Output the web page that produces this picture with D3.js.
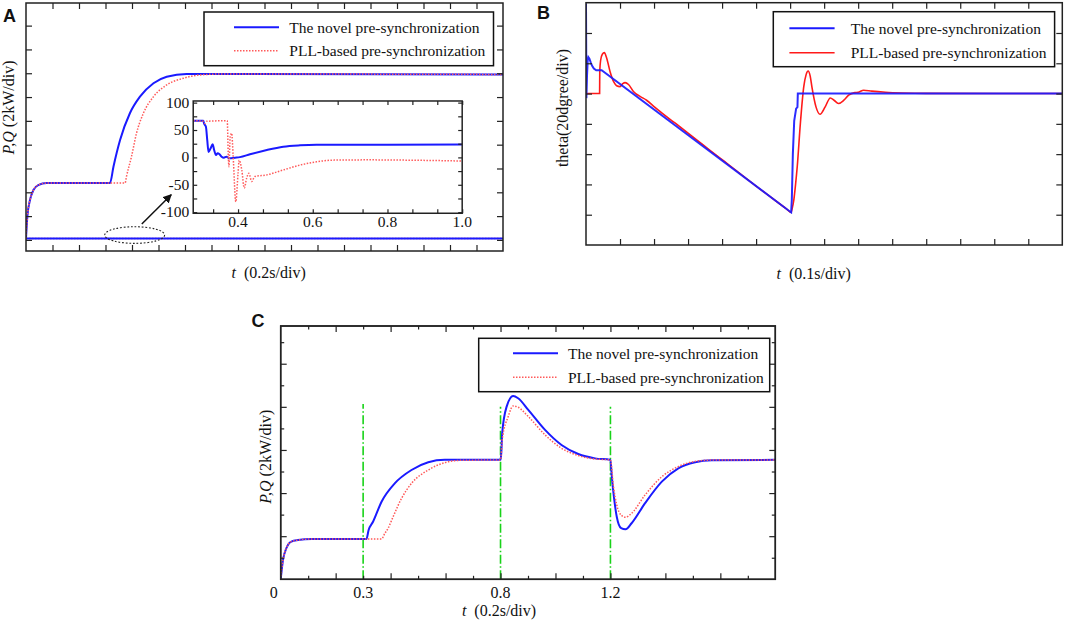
<!DOCTYPE html>
<html>
<head>
<meta charset="utf-8">
<script src="https://cdn.jsdelivr.net/npm/d3@7"></script>
<style>
  body { margin: 0; background: #fff; }
  text { font-family: "Liberation Serif", "Times New Roman", serif; fill: #111; }
  .tag { font-family: "Liberation Sans", Arial, sans-serif; font-weight: bold; font-size: 18px; }
  .tick line { stroke: #222; stroke-width: 1.2; }
</style>
</head>
<body>
<svg id="fig" width="1065" height="620"></svg>
<script>
// ---- panel A: P,Q (kW) vs t (s)
const aNovelP = [[0,0.13],[0.005,1.95],[0.015,3.35],[0.028,4.19],[0.046,4.61],[0.078,4.78],[0.317,4.78],[0.33,6.15],[0.355,8.39],[0.392,10.64],[0.43,12.03],[0.481,13.16],[0.531,13.71],[0.606,13.94],[1.8,13.9]];
const aPllP = [[0,0.13],[0.005,1.95],[0.015,3.35],[0.028,4.19],[0.046,4.61],[0.078,4.78],[0.374,4.78],[0.379,5.31],[0.398,6.99],[0.417,8.96],[0.443,10.64],[0.481,12.03],[0.531,13.02],[0.594,13.58],[0.657,13.86],[0.75,13.94],[1.8,13.9]];
const aNovelQ = [[0,0.13],[1.8,0.13]];
const aPllQ = [[0,0.13],[1.8,0.13]];
// inset of A (zoomed Q)
const insetNovel = [[0.28,67],[0.307,67],[0.309,62],[0.314,56],[0.3175,32],[0.321,10],[0.3266,16.6],[0.332,24],[0.336,13.5],[0.341,4.4],[0.3454,7.5],[0.3497,6.2],[0.356,1.3],[0.362,-0.5],[0.369,1.3],[0.3765,-1.6],[0.392,-0.5],[0.405,0.5],[0.432,5.7],[0.477,13.5],[0.521,19.5],[0.566,22],[0.61,23],[0.8,23.2],[1.0,23.4]];
const insetPll = [[0.28,67],[0.307,66],[0.311,62],[0.316,66],[0.371,67],[0.374,1],[0.3756,-17],[0.379,38],[0.383,44],[0.387,1],[0.394,-81],[0.4,-29],[0.403,-5],[0.41,-23],[0.4166,-56],[0.423,-38],[0.429,-29],[0.4365,-44],[0.445,-35],[0.476,-32],[0.521,-23],[0.566,-14],[0.61,-8],[0.655,-5],[0.75,-4.5],[0.85,-5],[1.0,-6.6]];
const insetXLabels = [0.4, 0.6, 0.8, 1.0];
const insetYLabels = [-100, -50, 0, 50, 100];
// inset box and zoom marks, in panel A data units [t, kW]
const insetBox = [[0.631, 11.67], [1.646, 2.24]];
const zoomEllipse = [0.41, 0.41, 0.113, 0.7];
const zoomArrow = [[0.437, 1.34], [0.548, 3.8]];

// ---- panel B: theta (degree) vs t
const bNovel = [[0,59.5],[0.0012,-3],[0.003,12],[0.005,22],[0.007,24],[0.01,23],[0.014,20.5],[0.018,18.3],[0.023,16.5],[0.03,15.4],[0.046,15.4],[0.603,-78.5],[0.605,-70],[0.608,-40],[0.612,-18],[0.6176,-10],[0.6215,-9],[0.6226,0],[1.4,0]];
const bPll = [[0,0],[0.04,0],[0.0405,15],[0.043,22],[0.048,26],[0.054,27],[0.06,24],[0.071,14.3],[0.082,7.5],[0.09,5.2],[0.1,4.6],[0.108,6.5],[0.115,7.2],[0.125,6],[0.14,1.2],[0.16,-2],[0.178,-4.4],[0.2,-8.6],[0.25,-17.5],[0.27,-20.8],[0.3,-26.2],[0.4,-43.6],[0.5,-61.1],[0.59,-76.3],[0.603,-78.5],[0.606,-76],[0.611,-70],[0.616,-60],[0.621,-48],[0.63,-20],[0.64,4.4],[0.647,12.5],[0.653,14.9],[0.659,11.5],[0.664,4.4],[0.676,-8.8],[0.688,-13.7],[0.703,-8.8],[0.718,-2.9],[0.729,-4.4],[0.742,-6.6],[0.758,-4.4],[0.772,-1.1],[0.79,0.6],[0.8,0.8],[0.816,2.2],[0.84,1.6],[0.88,0.9],[0.93,0.4],[1.0,0.1],[1.4,0]];

// ---- panel C: P,Q (kW) vs t (s)
const cNovel = [[0,0],[0.0084,0.9],[0.0205,1.44],[0.0387,1.75],[0.063,1.82],[0.112,1.87],[0.312,1.87],[0.32,2.29],[0.336,2.67],[0.367,3.6],[0.415,4.45],[0.476,5.07],[0.537,5.43],[0.597,5.54],[0.8,5.54],[0.803,5.9],[0.806,6.77],[0.822,8.0],[0.846,8.5],[0.864,8.4],[0.901,7.86],[0.962,6.93],[1.022,6.23],[1.083,5.81],[1.144,5.61],[1.2,5.54],[1.205,4.76],[1.214,3.68],[1.223,2.9],[1.239,2.37],[1.255,2.32],[1.277,2.6],[1.326,3.53],[1.387,4.53],[1.447,5.15],[1.508,5.43],[1.569,5.52],[1.8,5.54]];
const cPll = [[0,0],[0.0084,0.9],[0.0205,1.44],[0.0387,1.75],[0.063,1.82],[0.112,1.87],[0.367,1.87],[0.379,2.13],[0.391,2.37],[0.409,2.9],[0.44,3.76],[0.476,4.45],[0.537,5.07],[0.597,5.41],[0.658,5.52],[0.8,5.54],[0.806,6.46],[0.828,7.55],[0.846,8.04],[0.864,7.98],[0.901,7.55],[0.962,6.7],[1.022,6.08],[1.083,5.74],[1.144,5.58],[1.2,5.54],[1.211,4.3],[1.223,3.45],[1.239,2.98],[1.255,2.88],[1.277,3.06],[1.326,3.91],[1.387,4.76],[1.447,5.23],[1.508,5.47],[1.569,5.53],[1.8,5.54]];
const cEvents = [0.3, 0.8, 1.2];
const cEventTop = [8.13, 8, 8];
const cXLabels = [0, 0.3, 0.8, 1.2];

const legendNames = ["The novel pre-synchronization", "PLL-based pre-synchronization"];

const BLUE = "#1a1aff", RED = "#ff1a1a", PINK = "#ff5a5a", GREEN = "#19d219";
const svg = d3.select("#fig");

// inward ticks on all four sides, plus the box
function drawFrame(g, x, y, xt, yt, len) {
  const [x0, x1] = x.range(), [y0, y1] = y.range();
  const strip = s => s.select(".domain").remove();
  g.append("g").attr("transform", `translate(0,${y0})`)
    .call(d3.axisBottom(x).tickValues(xt).tickSizeInner(-len).tickSizeOuter(0).tickFormat("")).call(strip);
  g.append("g").attr("transform", `translate(0,${y1})`)
    .call(d3.axisTop(x).tickValues(xt).tickSizeInner(-len).tickSizeOuter(0).tickFormat("")).call(strip);
  g.append("g").attr("transform", `translate(${x0},0)`)
    .call(d3.axisLeft(y).tickValues(yt).tickSizeInner(-len).tickSizeOuter(0).tickFormat("")).call(strip);
  g.append("g").attr("transform", `translate(${x1},0)`)
    .call(d3.axisRight(y).tickValues(yt).tickSizeInner(-len).tickSizeOuter(0).tickFormat("")).call(strip);
  g.append("rect").attr("x", x0).attr("y", y1).attr("width", x1 - x0).attr("height", y0 - y1)
    .attr("fill", "none").attr("stroke", "#222").attr("stroke-width", 1.5);
}

function lineGen(x, y, curve) {
  return d3.line().x(d => x(d[0])).y(d => y(d[1])).curve(curve || d3.curveMonotoneX);
}

function drawLegend(g, bx, by, bw, bh, lx0, lx1, tx, rows, styles) {
  g.append("rect").attr("x", bx).attr("y", by).attr("width", bw).attr("height", bh)
    .attr("fill", "#fff").attr("stroke", "#111").attr("stroke-width", 1.5);
  rows.forEach((ry, i) => {
    g.append("line").attr("x1", lx0).attr("x2", lx1).attr("y1", ry).attr("y2", ry)
      .attr("stroke", styles[i].c).attr("stroke-width", styles[i].w)
      .attr("stroke-dasharray", styles[i].dash || null);
    g.append("text").attr("x", tx).attr("y", ry + 5.5).attr("font-size", 15.5).text(legendNames[i]);
  });
}

function clipFor(id, x, y) {
  svg.append("clipPath").attr("id", id).append("rect")
    .attr("x", x.range()[0]).attr("y", y.range()[1])
    .attr("width", x.range()[1] - x.range()[0]).attr("height", y.range()[0] - y.range()[1]);
  return `url(#${id})`;
}

// ================= A =================
const gA = svg.append("g");
const xA = d3.scaleLinear().domain([0, 1.8]).range([26, 503]);
const yA = d3.scaleLinear().domain([-0.93, 19.9]).range([251, 3]);
const lA = lineGen(xA, yA);
const clipA = clipFor("clipA", xA, yA);
gA.append("path").datum(aPllQ).attr("d", lA).attr("fill", "none").attr("stroke", PINK).attr("stroke-width", 1.5).attr("stroke-dasharray", "1.5,1.5").attr("clip-path", clipA);
gA.append("path").datum(aNovelQ).attr("d", lA).attr("fill", "none").attr("stroke", BLUE).attr("stroke-width", 2).attr("clip-path", clipA);
gA.append("path").datum(aNovelP).attr("d", lA).attr("fill", "none").attr("stroke", BLUE).attr("stroke-width", 2).attr("clip-path", clipA);
gA.append("path").datum(aPllP).attr("d", lA).attr("fill", "none").attr("stroke", PINK).attr("stroke-width", 1.5).attr("stroke-dasharray", "1.5,1.5").attr("clip-path", clipA);
drawFrame(gA, xA, yA, d3.range(1, 18).map(i => i / 10), d3.range(0, 10).map(i => i * 2), 6);

// zoom ellipse and arrow
gA.append("ellipse")
  .attr("cx", xA(zoomEllipse[0])).attr("cy", yA(zoomEllipse[1]))
  .attr("rx", xA(zoomEllipse[0] + zoomEllipse[2]) - xA(zoomEllipse[0]))
  .attr("ry", yA(zoomEllipse[1]) - yA(zoomEllipse[1] + zoomEllipse[3]))
  .attr("fill", "none").attr("stroke", "#222").attr("stroke-width", 1.1).attr("stroke-dasharray", "1.8,1.8");
svg.append("defs").append("marker").attr("id", "arrowHead")
  .attr("viewBox", "0 0 10 10").attr("refX", 9).attr("refY", 5)
  .attr("markerWidth", 9).attr("markerHeight", 9).attr("markerUnits", "userSpaceOnUse").attr("orient", "auto")
  .append("path").attr("d", "M0,0L10,5L0,10Z").attr("fill", "#111");
gA.append("line")
  .attr("x1", xA(zoomArrow[0][0])).attr("y1", yA(zoomArrow[0][1]))
  .attr("x2", xA(zoomArrow[1][0])).attr("y2", yA(zoomArrow[1][1]))
  .attr("stroke", "#111").attr("stroke-width", 1.5).attr("marker-end", "url(#arrowHead)");

// inset
const xI = d3.scaleLinear().domain([0.28, 1.0]).range([xA(insetBox[0][0]), xA(insetBox[1][0])]);
const yI = d3.scaleLinear().domain([-102, 103]).range([yA(insetBox[1][1]), yA(insetBox[0][1])]);
const gI = gA.append("g");
gI.append("rect").attr("x", xI.range()[0]).attr("y", yI.range()[1])
  .attr("width", xI.range()[1] - xI.range()[0]).attr("height", yI.range()[0] - yI.range()[1]).attr("fill", "#fff");
const lI = lineGen(xI, yI);
const clipI = clipFor("clipI", xI, yI);
gI.append("path").datum(insetNovel).attr("d", lI).attr("fill", "none").attr("stroke", BLUE).attr("stroke-width", 2).attr("clip-path", clipI);
gI.append("path").datum(insetPll).attr("d", lI).attr("fill", "none").attr("stroke", PINK).attr("stroke-width", 1.5).attr("stroke-dasharray", "1.5,1.5").attr("clip-path", clipI);
drawFrame(gI, xI, yI, d3.range(5, 16).map(i => i * 0.2 / 3), d3.range(-100, 101, 25), 4);
gI.selectAll(".ixl").data(insetXLabels).enter().append("text")
  .attr("x", d => xI(d)).attr("y", yI.range()[0] + 14).attr("text-anchor", "middle").attr("font-size", 15.5)
  .text(d => d.toFixed(1));
gI.selectAll(".iyl").data(insetYLabels).enter().append("text")
  .attr("x", xI.range()[0] - 4).attr("y", d => yI(d) + 5).attr("text-anchor", "end").attr("font-size", 15.5)
  .text(d => d);

drawLegend(gA, 204, 12, 289.5, 53.7, 234, 279, 289.3, [27.3, 50.7],
  [{ c: BLUE, w: 2 }, { c: PINK, w: 1.5, dash: "1.5,1.5" }]);

gA.append("text").attr("x", 268.7).attr("y", 278.3).attr("text-anchor", "middle").attr("font-size", 16)
  .call(t => { t.append("tspan").attr("font-style", "italic").text("t"); t.append("tspan").text("\u2002(0.2s/div)"); });
gA.append("text").attr("transform", "translate(14,107.5) rotate(-90)").attr("text-anchor", "middle").attr("font-size", 16)
  .call(t => { t.append("tspan").attr("font-style", "italic").text("P,Q"); t.append("tspan").text(" (2kW/div)"); });
svg.append("text").attr("class", "tag").attr("x", 3).attr("y", 22).text("A");

// ================= B =================
const gB = svg.append("g");
const xB = d3.scaleLinear().domain([0, 1.4]).range([586, 1062.3]);
const yB = d3.scaleLinear().domain([-100, 60]).range([245, 2.7]);
const lB = lineGen(xB, yB);
const lBlin = lineGen(xB, yB, d3.curveLinear);
const clipB = clipFor("clipB", xB, yB);
gB.append("path").datum(bPll).attr("d", lB).attr("fill", "none").attr("stroke", RED).attr("stroke-width", 1.6).attr("clip-path", clipB);
gB.append("path").datum(bNovel).attr("d", lBlin).attr("fill", "none").attr("stroke", BLUE).attr("stroke-width", 2).attr("stroke-opacity", 0.92).attr("clip-path", clipB);
drawFrame(gB, xB, yB, d3.range(1, 14).map(i => i / 10), d3.range(-80, 41, 20), 6);
drawLegend(gB, 773.3, 11.7, 281.3, 55, 789.4, 834.6, 850.7, [28.3, 52.7],
  [{ c: BLUE, w: 2 }, { c: RED, w: 1.6 }]);
gB.append("text").attr("x", 813.7).attr("y", 278.5).attr("text-anchor", "middle").attr("font-size", 16)
  .call(t => { t.append("tspan").attr("font-style", "italic").text("t"); t.append("tspan").text("\u2002(0.1s/div)"); });
gB.append("text").attr("transform", "translate(568,108) rotate(-90)").attr("text-anchor", "middle").attr("font-size", 16)
  .text("theta(20dgree/div)");
svg.append("text").attr("class", "tag").attr("x", 537).attr("y", 19).text("B");

// ================= C =================
const gC = svg.append("g");
const xC = d3.scaleLinear().domain([0, 1.8]).range([280.7, 775.3]);
const yC = d3.scaleLinear().domain([0, 11.75]).range([579.3, 326]);
const lC = lineGen(xC, yC);
const clipC = clipFor("clipC", xC, yC);
gC.selectAll(".ev").data(cEvents).enter().append("line")
  .attr("x1", d => xC(d)).attr("x2", d => xC(d))
  .attr("y1", yC(0)).attr("y2", (d, i) => yC(cEventTop[i]))
  .attr("stroke", GREEN).attr("stroke-width", 1.6).attr("stroke-dasharray", "9,2.5,1.5,2.5");
gC.append("path").datum(cNovel).attr("d", lC).attr("fill", "none").attr("stroke", BLUE).attr("stroke-width", 2).attr("clip-path", clipC);
gC.append("path").datum(cPll).attr("d", lC).attr("fill", "none").attr("stroke", PINK).attr("stroke-width", 1.5).attr("stroke-dasharray", "1.5,1.5").attr("clip-path", clipC);
// major / minor ticks
drawFrame(gC, xC, yC, d3.range(1, 9).map(i => i / 5), d3.range(2, 11, 2), 6);
drawFrame(gC, xC, yC, d3.range(0, 9).map(i => (2 * i + 1) / 10), d3.range(1, 12, 2), 3.5);
gC.selectAll(".cxl").data(cXLabels).enter().append("text")
  .attr("x", d => xC(d) - (d === 0 ? 7 : 0)).attr("y", 597.5).attr("text-anchor", "middle").attr("font-size", 16)
  .text(d => d);
drawLegend(gC, 478.7, 338.3, 291, 53.4, 513, 558, 568, [353.3, 377.3],
  [{ c: BLUE, w: 2 }, { c: PINK, w: 1.5, dash: "1.5,1.5" }]);
gC.append("text").attr("x", 499).attr("y", 616).attr("text-anchor", "middle").attr("font-size", 16)
  .call(t => { t.append("tspan").attr("font-style", "italic").text("t"); t.append("tspan").text("\u2002(0.2s/div)"); });
gC.append("text").attr("transform", "translate(271,456.7) rotate(-90)").attr("text-anchor", "middle").attr("font-size", 16)
  .call(t => { t.append("tspan").attr("font-style", "italic").text("P,Q"); t.append("tspan").text(" (2kW/div)"); });
svg.append("text").attr("class", "tag").attr("x", 251.5).attr("y", 327).text("C");
</script>
</body>
</html>
